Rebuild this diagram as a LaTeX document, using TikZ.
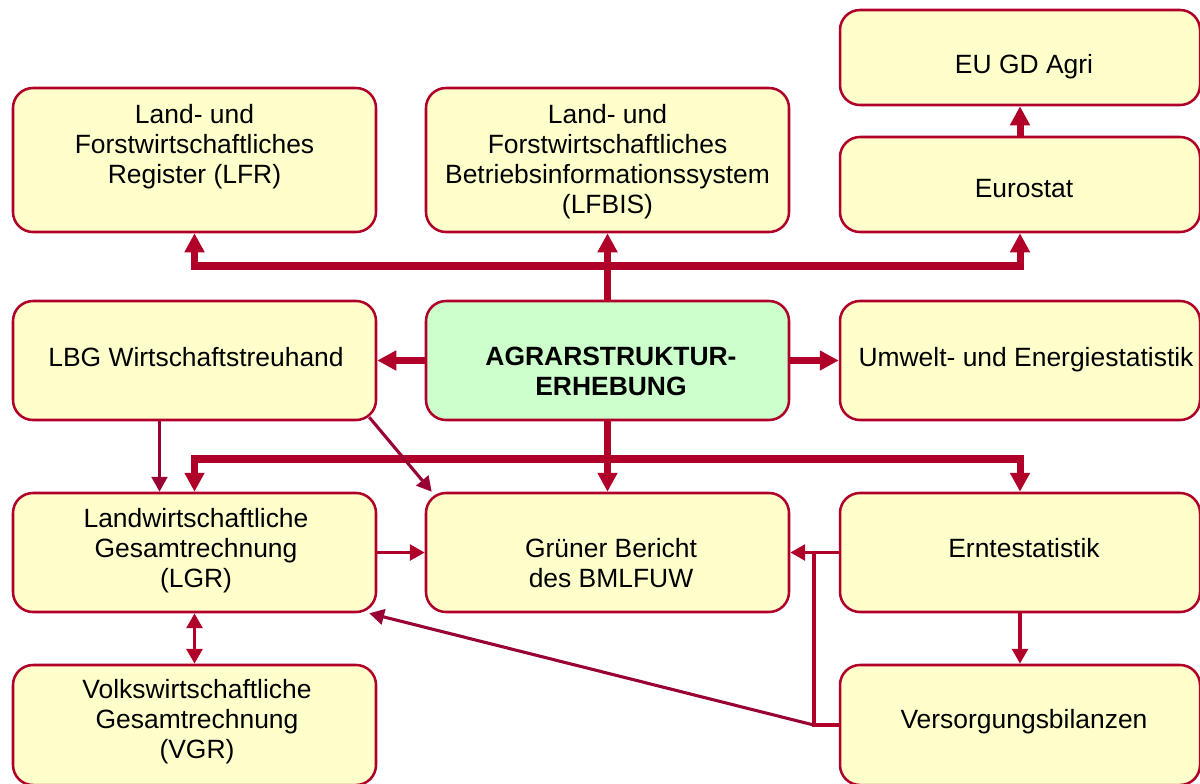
\documentclass[tikz,border=0pt]{standalone}
\usepackage{fontspec}
\setmainfont{Liberation Sans}
\usetikzlibrary{arrows.meta,calc}
\definecolor{rahmenrot}{HTML}{B0002A}
\definecolor{pfeilrot}{HTML}{990033}
\definecolor{kastengelb}{HTML}{FFFFCC}
\definecolor{kastengruen}{HTML}{CCFFCC}
\begin{document}
\begin{tikzpicture}[x=0.025cm,y=-0.025cm]
            \tikzset{
                kasten/.style args={#1 by #2}{draw=rahmenrot,line width=1.8pt,fill=kastengelb,
                    rounded corners=0.5cm,minimum width=#1*0.025cm,minimum height=#2*0.025cm,inner sep=0pt},
                schrift/.style={font=\fontsize{18.8}{21.3}\selectfont,align=center,anchor=north,inner sep=0pt},
                dick/.style={draw=rahmenrot,line width=5pt},
                mittel/.style={draw=rahmenrot,line width=2.8pt},
                duenn/.style={draw=pfeilrot,line width=2.2pt},
                GrossSpitze/.tip={Triangle[width=13.5pt,length=13.5pt]},
                KleinSpitze/.tip={Triangle[width=11pt,length=10.5pt]},}
            \path[use as bounding box,fill=white] (0,0) rectangle (1200,783);
            % Kaesten
            \node[kasten=363 by 144] (lfr) at (194.5,160) {};
            \node[kasten=363 by 144] (lfbis) at (607.5,160) {};
            \node[kasten=360 by 95] (eu) at (1020,57.5) {};
            \node[kasten=360 by 95] (eurostat) at (1020,184.5) {};
            \node[kasten=363 by 119] (lbg) at (194.5,360.5) {};
            \node[kasten=363 by 119,fill=kastengruen] (ase) at (607.5,360.5) {};
            \node[kasten=360 by 119] (umwelt) at (1020,360.5) {};
            \node[kasten=363 by 119] (lgr) at (194.5,552.5) {};
            \node[kasten=363 by 119] (gruen) at (607.5,552.5) {};
            \node[kasten=360 by 119] (ernte) at (1020,552.5) {};
            \node[kasten=363 by 120] (vgr) at (194.5,725) {};
            \node[kasten=360 by 120] (vb) at (1020,725) {};
            % Texte
            \node[schrift] (t-lfr) at (194.5,104) {Land- und\\Forstwirtschaftliches\\Register (LFR)};
            \node[schrift] (t-lfbis) at (607.5,104) {Land- und\\Forstwirtschaftliches\\Betriebsinformationssystem\\(LFBIS)};
            \node[schrift] (t-eu) at (1024,54) {EU GD Agri};
            \node[schrift] (t-eurostat) at (1024,179) {Eurostat};
            \node[schrift] (t-lbg) at (196,347) {LBG Wirtschaftstreuhand};
            \node[schrift,font=\fontsize{18.8}{21.3}\selectfont\bfseries] (t-ase) at (611,347) {AGRARSTRUKTUR-\\ERHEBUNG};
            \node[schrift] (t-umwelt) at (1026,347) {Umwelt- und Energiestatistik};
            \node[schrift] (t-lgr) at (196,508) {Landwirtschaftliche\\Gesamtrechnung\\(LGR)};
            \node[schrift] (t-gruen) at (611,538) {Grüner Bericht\\des BMLFUW};
            \node[schrift] (t-ernte) at (1024,538) {Erntestatistik};
            \node[schrift] (t-vgr) at (197,679) {Volkswirtschaftliche\\Gesamtrechnung\\(VGR)};
            \node[schrift] (t-vb) at (1024,709) {Versorgungsbilanzen};
            % dicke Pfeile
            \coordinate (obus) at (607.5,266);
            \coordinate (ubus) at (607.5,459);
            \draw[dick,-GrossSpitze] (ase) -- (lfbis);
            \draw[dick,GrossSpitze-GrossSpitze] (lfr.south) |- (obus) -| (eurostat.south);
            \draw[dick,-GrossSpitze] (eurostat) -- (eu);
            \draw[dick,-GrossSpitze] (ase) -- (lbg);
            \draw[dick,-GrossSpitze] (ase) -- (umwelt);
            \draw[dick,-GrossSpitze] (ase) -- (gruen);
            \draw[dick,GrossSpitze-GrossSpitze] (lgr.north) |- (ubus) -| (ernte.north);
            % duenne Pfeile
            \draw[duenn,-KleinSpitze] ($(lbg.south)+(-35,0)$) coordinate (lbg-fuss) -- (lbg-fuss |- lgr.north);
            \draw[duenn,-KleinSpitze] ($(lbg.south east)+(-8,-4)$) -- ($(gruen.north west)+(7,0)$);
            \draw[mittel,-KleinSpitze] (lgr) -- (gruen);
            \draw[mittel,-KleinSpitze] (ernte) -- (gruen);
            \draw[mittel,KleinSpitze-KleinSpitze] (lgr) -- (vgr);
            \draw[mittel,-KleinSpitze] (ernte) -- (vb);
            \draw[mittel] (vb.west) -- ++(-25,0) coordinate (knick) -- (knick |- gruen.east);
            \draw[duenn,-KleinSpitze] (knick) -- ($(lgr.south east)+(-8,0)$);
        \end{tikzpicture}
\end{document}
